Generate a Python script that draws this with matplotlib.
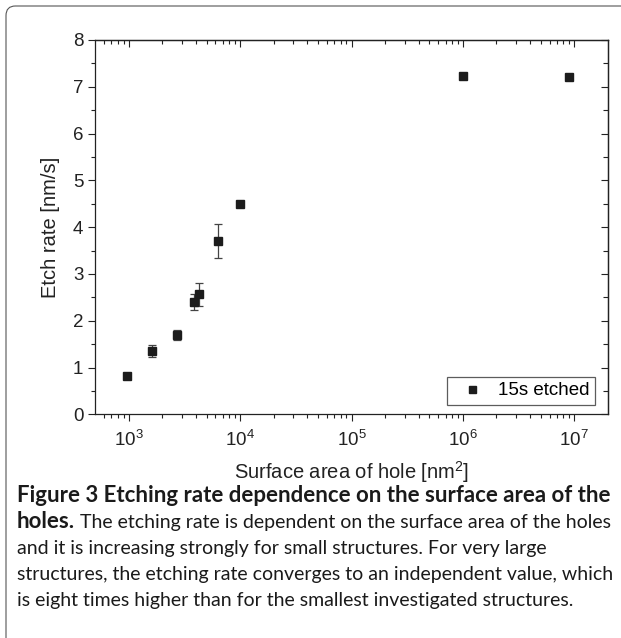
import numpy as np
import matplotlib.pyplot as plt
from matplotlib.patches import FancyBboxPatch
from matplotlib.ticker import LogLocator, MultipleLocator, NullFormatter

plt.rcParams['font.family'] = ['Liberation Sans', 'DejaVu Sans']
plt.rcParams['mathtext.fontset'] = 'custom'
plt.rcParams['mathtext.rm'] = 'Liberation Sans'
plt.rcParams['mathtext.it'] = 'Liberation Sans'

# data
area = [970, 1608, 2700, 3830, 4270, 6280, 10000, 1.0e6, 8.96e6]
rate = [0.82, 1.36, 1.69, 2.40, 2.57, 3.71, 4.49, 7.23, 7.20]
err = [0.03, 0.13, 0.11, 0.17, 0.245, 0.365, 0.03, 0.05, 0.03]

fig = plt.figure(figsize=(6.21, 6.38), dpi=100)

# rounded frame round the whole figure
frame = FancyBboxPatch((6 / 621, -0.05), 1.2, 1 - 6 / 638 + 0.05,
                       boxstyle="round,pad=0,rounding_size=0.015",
                       transform=fig.transFigure, fill=False,
                       edgecolor='#555555', linewidth=0.8)
fig.patches.append(frame)

ax = fig.add_axes([95.3 / 621, 1 - 414.3 / 638, 512.4 / 621, 374.3 / 638])
ax.errorbar(area, rate, yerr=err, fmt='none', ecolor='#444444',
            elinewidth=0.9, capsize=3.2, capthick=0.9)
ax.plot(area, rate, 's', color='#1c1c1c', ms=6.3, label='15s etched')

ax.set_xscale('log')
ax.set_xlim(10 ** 2.70, 10 ** 7.30)
ax.set_ylim(0, 8)

maj = lambda: LogLocator(base=10, numticks=10)
mnr = lambda: LogLocator(base=10, subs=np.arange(2, 10), numticks=20)
ax.xaxis.set_major_locator(maj())
ax.xaxis.set_minor_locator(mnr())
ax.xaxis.set_minor_formatter(NullFormatter())
ax.yaxis.set_major_locator(MultipleLocator(1))
ax.yaxis.set_minor_locator(MultipleLocator(0.5))

# left/bottom ticks point out, top/right point in
ax.tick_params(which='both', direction='out', labelsize=13.5,
               colors='#222222', labelcolor='#222222')
ax.tick_params(which='major', length=5, width=0.8, pad=3.5)
ax.tick_params(which='minor', length=3, width=0.8)
ax.tick_params(axis='x', which='major', pad=6.5)

top = ax.secondary_xaxis('top')
top.xaxis.set_major_locator(maj())
top.xaxis.set_minor_locator(mnr())
top.xaxis.set_minor_formatter(NullFormatter())
top.tick_params(which='both', direction='in', labeltop=False, colors='#222222')
top.tick_params(which='major', length=5, width=0.8)
top.tick_params(which='minor', length=3, width=0.8)

right = ax.secondary_yaxis('right')
right.yaxis.set_major_locator(MultipleLocator(1))
right.yaxis.set_minor_locator(MultipleLocator(0.5))
right.tick_params(which='both', direction='in', labelright=False, colors='#222222')
right.tick_params(which='major', length=5, width=0.8)
right.tick_params(which='minor', length=3.5, width=0.8)

for a in (ax, top, right):
    for s in a.spines.values():
        s.set_linewidth(0.9)
        s.set_color('#222222')

ax.set_xlabel('Surface area of hole [nm$^2$]', fontsize=14.5, labelpad=6,
              color='#222222')
ax.set_ylabel('Etch rate [nm/s]', fontsize=14.5, labelpad=9, color='#222222')

leg = ax.legend(loc='lower right', frameon=True, fancybox=False,
                handletextpad=0.4, borderpad=0.3, handlelength=2.0,
                markerscale=0.8, fontsize=13.5, borderaxespad=0,
                bbox_to_anchor=((595 - 95.3) / 512.4, (414.3 - 405) / 374.3))
leg.get_frame().set_edgecolor('#333333')
leg.get_frame().set_linewidth(0.9)

# caption
cap_font = 'Lato'
lines = [
    "The etching rate is dependent on the surface area of the holes",
    "and it is increasing strongly for small structures. For very large",
    "structures, the etching rate converges to an independent value, which",
    "is eight times higher than for the smallest investigated structures.",
]
x0 = 17 / 621
base = 502
step = 26
fig.text(x0, 1 - base / 638, "Figure 3 Etching rate dependence on the surface area of the",
         fontsize=16, fontweight='bold', family=cap_font, va='baseline', color='#1a1a1a')
b = fig.text(x0, 1 - (base + step) / 638, "holes.", fontsize=16, fontweight='bold',
             family=cap_font, va='baseline', color='#1a1a1a')
fig.canvas.draw()
bb = b.get_window_extent().transformed(fig.transFigure.inverted())
fig.text(bb.x1 + 5 / 621, 1 - (base + step) / 638, lines[0], fontsize=14.0,
         family=cap_font, va='baseline', color='#1a1a1a')
for i, t in enumerate(lines[1:]):
    fig.text(x0, 1 - (base + step * (i + 2)) / 638, t, fontsize=14.0,
             family=cap_font, va='baseline', color='#1a1a1a')

fig.savefig('out.png', dpi=100)
